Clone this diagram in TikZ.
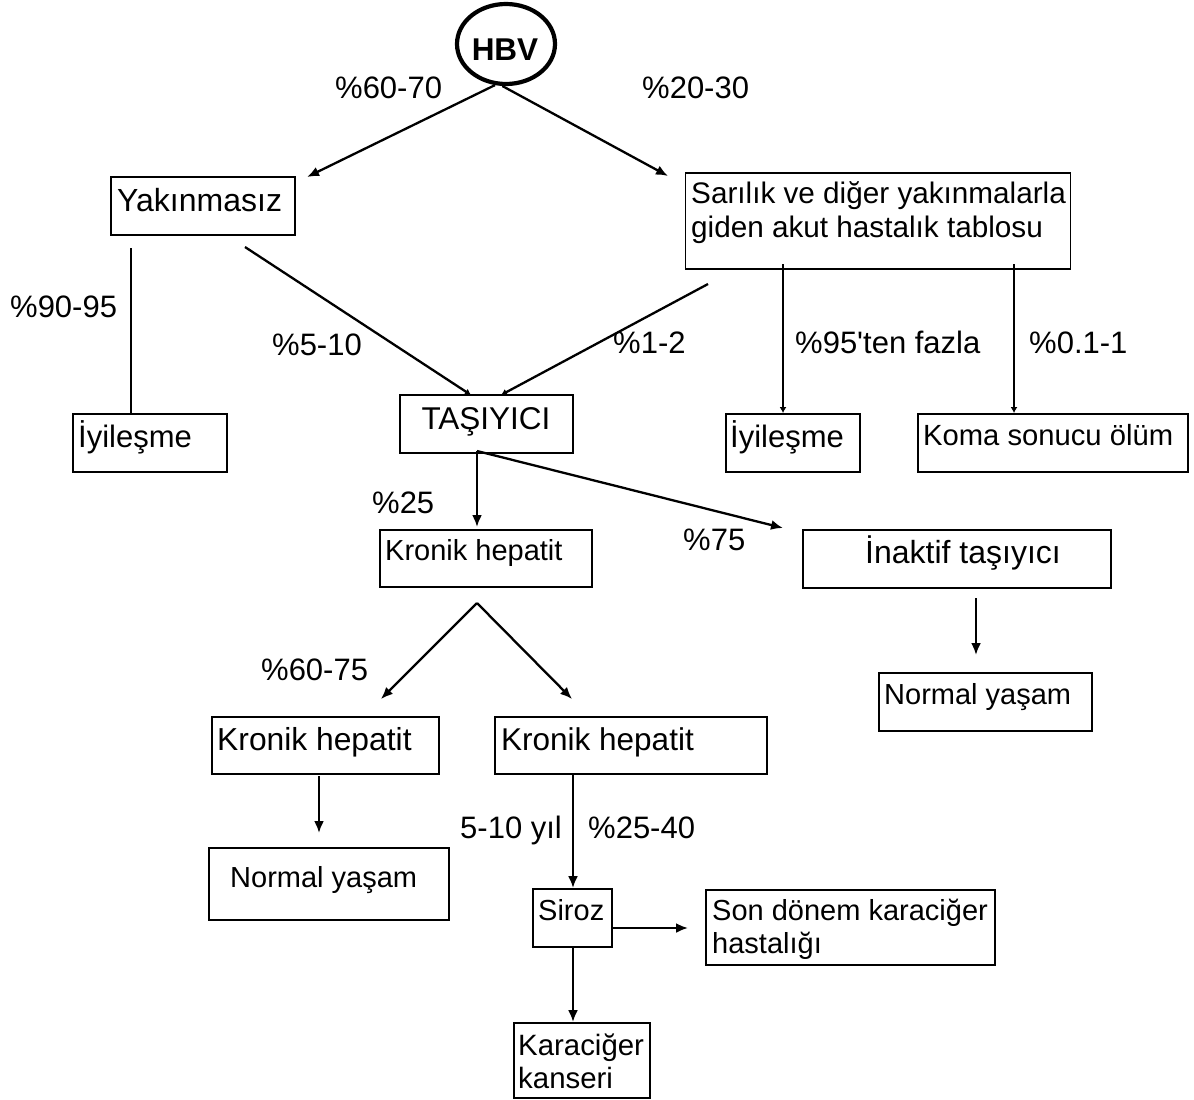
\documentclass[tikz,border=0pt]{standalone}
\usepackage{fontspec}
\setmainfont{Liberation Sans}
\usetikzlibrary{arrows.meta,shapes.geometric}
\newcommand{\fsz}[1]{\fontsize{#1}{33}\selectfont}
\begin{document}
\begin{tikzpicture}[x=1pt,y=-1pt,
  box/.style={draw,line width=1.9pt,inner sep=0pt,rectangle},
  txt/.style={inner sep=0pt,anchor=base west},
  lbl/.style={inner sep=0pt,anchor=base west,font=\fsz{31}},
  conn/.style={line width=2.3pt,-{Latex[length=12pt,width=10pt]}},
  connsmall/.style={line width=2.3pt,-{Latex[length=6pt,width=7pt]}},
  plain/.style={line width=2.3pt}]
\useasboundingbox (0,0) rectangle (1194,1100);

% boxes
\node[draw,line width=4.2pt,ellipse,minimum width=98pt,minimum height=80pt,inner sep=0pt] (hbv) at (506,44) {};
\node[txt,anchor=base,font=\bfseries\fsz{31.5}] (hbvt) at (505,60) {HBV};

\node[box,minimum width=184pt,minimum height=58pt] (yak) at (203,206) {};
\node[txt,font=\fsz{32}] (yakt) at (117,211) {Yakınmasız};

\node[box,minimum width=385pt,minimum height=96pt] (sar) at (878,221) {};
\node[txt,font=\fsz{29.7}] (sart) at (691,203) {\begin{tabular}[t]{@{}l@{}}Sarılık ve diğer yakınmalarla\\[1pt] giden akut hastalık tablosu\end{tabular}};

\node[box,minimum width=154pt,minimum height=58pt] (iyi1) at (150,443) {};
\node[txt,font=\fsz{31}] (iyi1t) at (78,447) {İyileşme};

\node[box,minimum width=173pt,minimum height=58pt] (tas) at (486.5,424) {};
\node[txt,anchor=base,font=\fsz{31.5}] (tast) at (486,429) {TAŞIYICI};

\node[box,minimum width=134pt,minimum height=58pt] (iyi2) at (793,443) {};
\node[txt,font=\fsz{31}] (iyi2t) at (730,447) {İyileşme};

\node[box,minimum width=270pt,minimum height=58pt] (koma) at (1053,443) {};
\node[txt,font=\fsz{29.2}] (komat) at (923,445) {Koma sonucu ölüm};

\node[box,minimum width=212pt,minimum height=57pt] (kh1) at (486,558.5) {};
\node[txt,font=\fsz{29}] (kh1t) at (385,560) {Kronik hepatit};

\node[box,minimum width=308pt,minimum height=58pt] (inak) at (957,559) {};
\node[txt,font=\fsz{32}] (inakt) at (865,563) {İnaktif taşıyıcı};

\node[box,minimum width=213pt,minimum height=58pt] (nor2) at (985.5,702) {};
\node[txt,font=\fsz{29}] (nor2t) at (884,704) {Normal yaşam};

\node[box,minimum width=227pt,minimum height=57pt] (kh2) at (325.5,745.5) {};
\node[txt,font=\fsz{31.8}] (kh2t) at (217,750) {Kronik hepatit};

\node[box,minimum width=272pt,minimum height=57pt] (kh3) at (631,745.5) {};
\node[txt,font=\fsz{31.5}] (kh3t) at (501,750) {Kronik hepatit};

\node[box,minimum width=240pt,minimum height=72pt] (nor1) at (329,884) {};
\node[txt,font=\fsz{29}] (nor1t) at (230,887) {Normal yaşam};

\node[box,minimum width=79pt,minimum height=58pt] (siroz) at (572.5,918) {};
\node[txt,font=\fsz{29}] (sirozt) at (538,920) {Siroz};

\node[box,minimum width=289pt,minimum height=75pt] (son) at (850.5,927.5) {};
\node[txt,font=\fsz{29}] (sont) at (712,920) {\begin{tabular}[t]{@{}l@{}}Son dönem karaciğer\\ hastalığı\end{tabular}};

\node[box,minimum width=136pt,minimum height=75pt] (kar) at (582,1060.5) {};
\node[txt,font=\fsz{29.4}] (kart) at (518,1055) {\begin{tabular}[t]{@{}l@{}}Karaciğer\\ kanseri\end{tabular}};

% labels
\node[lbl] (l1) at (335,98) {\%60-70};
\node[lbl] (l2) at (642,98) {\%20-30};
\node[lbl] (l3) at (10,317) {\%90-95};
\node[lbl] (l4) at (272,355) {\%5-10};
\node[lbl] (l5) at (613,353) {\%1-2};
\node[lbl] (l6) at (795,353) {\%95\textquotesingle ten fazla};
\node[lbl] (l7) at (1029,353) {\%0.1-1};
\node[lbl] (l8) at (372,513) {\%25};
\node[lbl] (l9) at (683,550) {\%75};
\node[lbl] (l10) at (261,680) {\%60-75};
\node[lbl] (l11) at (460,838) {5-10 yıl};
\node[lbl] (l12) at (588,838) {\%25-40};

% free ends
\coordinate (a1) at (307,177);
\coordinate (a2) at (668,176);
\coordinate (b1) at (131,248);
\coordinate (b2) at (245,247);
\coordinate (b3) at (471,395);
\coordinate (c1) at (708,284);
\coordinate (c2) at (501,395);
\coordinate (c3) at (783,264);
\coordinate (c4) at (1014,264);
\coordinate (d0) at (477,451);
\coordinate (d1) at (477,527);
\coordinate (d2) at (783,528);
\coordinate (e0) at (477,603);
\coordinate (e1) at (381,699);
\coordinate (e2) at (572,699);
\coordinate (f0) at (319,776);
\coordinate (f1) at (319,833);
\coordinate (g0) at (573,774);
\coordinate (g1) at (573,889);
\coordinate (h0) at (612,928);
\coordinate (h1) at (688,928);
\coordinate (k0) at (573,947);
\coordinate (k1) at (573,1023);
\coordinate (m0) at (976,598);
\coordinate (m1) at (976,655);

% connectors
\draw[conn] (hbv.255) -- (a1);
\draw[conn] (hbv.265) -- (a2);
\draw[plain] (b1) -- (b1 |- iyi1.north);
\draw[connsmall] (b2) -- (b3);
\draw[connsmall] (c1) -- (c2);
\draw[connsmall] (c3) -- (c3 |- iyi2.north);
\draw[connsmall] (c4) -- (c4 |- koma.north);
\draw[conn] (d0) -- (d1);
\draw[conn] (d0) -- (d2);
\draw[conn] (e0) -- (e1);
\draw[conn] (e0) -- (e2);
\draw[conn] (f0) -- (f1);
\draw[conn] (g0) -- (g1 |- siroz.north);
\draw[conn] (h0) -- (h1);
\draw[conn] (k0) -- (k1 |- kar.north);
\draw[conn] (m0) -- (m1);
\end{tikzpicture}
\end{document}
